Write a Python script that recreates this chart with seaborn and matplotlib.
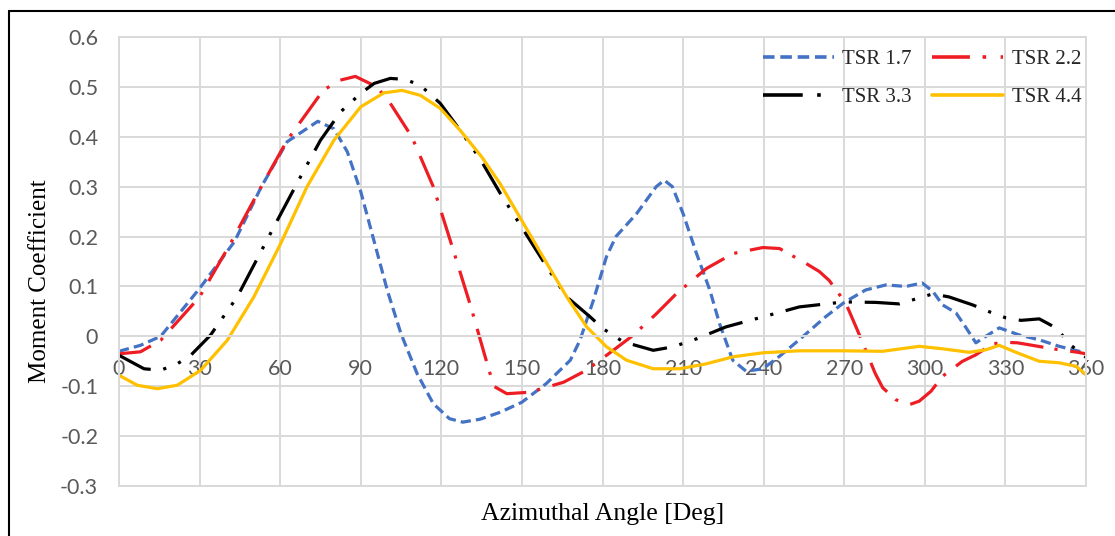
import numpy as np
import pandas as pd
import matplotlib
matplotlib.use("Agg")
import matplotlib.pyplot as plt
from matplotlib.lines import Line2D
import seaborn as sns

# ---- data ----
deg_17 = [0, 8, 15.5, 30, 43, 53, 62.6, 74, 80, 85, 90, 95, 100, 105, 111, 117, 123, 128,
          134.5, 142, 150, 159, 168, 171.6, 176.6, 181.5, 185, 192.7, 200, 203, 206, 210,
          215, 220, 223.6, 228.5, 233.5, 239.7, 245.9, 253, 263, 270, 278, 285.5, 293, 299,
          303, 306.6, 311.6, 315, 319, 322.7, 327.7, 335, 342.6, 350, 357.5, 360]
cm_17 = [-0.03, -0.018, 0.0, 0.096, 0.19, 0.30, 0.39, 0.431, 0.416, 0.37, 0.29, 0.19, 0.09,
         0.005, -0.075, -0.135, -0.165, -0.172, -0.166, -0.152, -0.132, -0.095, -0.048,
         -0.008, 0.072, 0.16, 0.20, 0.246, 0.30, 0.313, 0.30, 0.246, 0.166, 0.092, 0.025,
         -0.048, -0.07, -0.065, -0.04, -0.008, 0.039, 0.068, 0.093, 0.103, 0.1, 0.107, 0.09,
         0.063, 0.047, 0.02, -0.013, 0.0, 0.017, 0.003, -0.007, -0.02, -0.03, -0.035]

deg_22 = [0, 8, 15.5, 30, 41.5, 51.5, 62.6, 76, 82, 88, 96, 101, 109, 117, 124.5, 131, 136,
          139.5, 144.4, 153, 165.5, 174, 184, 191.4, 200, 207.6, 218.7, 228.6, 239.7, 245.9,
          255.8, 260.7, 264.4, 270.6, 275.4, 281.5, 284.3, 289.2, 294.2, 297.9, 302.3, 306.6,
          314, 319, 325.2, 330.2, 334.5, 340, 347.6, 356.9, 360]
cm_22 = [-0.035, -0.031, -0.008, 0.079, 0.186, 0.286, 0.393, 0.493, 0.513, 0.521, 0.5, 0.467,
         0.40, 0.30, 0.172, 0.059, -0.035, -0.1, -0.115, -0.112, -0.092, -0.068, -0.028, 0.002,
         0.045, 0.086, 0.136, 0.166, 0.178, 0.176, 0.146, 0.13, 0.112, 0.066, 0.006, -0.074,
         -0.103, -0.127, -0.137, -0.13, -0.11, -0.08, -0.05, -0.037, -0.015, -0.012, -0.013,
         -0.018, -0.025, -0.032, -0.035]

deg_33 = [0, 9.3, 15.5, 21.7, 26.7, 34, 44, 51.5, 59, 67.6, 75, 82.5, 90, 95, 101, 106.6,
          112.2, 119.6, 127, 134.5, 142, 150.6, 159.3, 166.7, 175.4, 180.3, 187.7, 198.9,
          206.3, 215, 226, 239.7, 253.3, 270, 281.8, 290.5, 297.9, 302.9, 309, 317.8, 324.6,
          330.2, 335.8, 342.6, 348.8, 354.4, 360]
cm_33 = [-0.038, -0.065, -0.068, -0.055, -0.038, 0.002, 0.079, 0.156, 0.233, 0.32, 0.393,
         0.45, 0.487, 0.507, 0.517, 0.515, 0.503, 0.467, 0.413, 0.355, 0.286, 0.213, 0.139,
         0.079, 0.039, 0.015, -0.011, -0.028, -0.021, -0.005, 0.019, 0.039, 0.059, 0.069,
         0.068, 0.065, 0.077, 0.085, 0.079, 0.063, 0.048, 0.037, 0.032, 0.035, 0.017, -0.018,
         -0.042]

deg_44 = [0, 6.8, 14.3, 21.7, 30.4, 40.3, 50.2, 60.2, 70, 80, 90, 98.6, 105.4, 112.2, 119.6,
          127, 135, 142, 150.6, 159.3, 166.7, 174.1, 181.5, 189, 198.9, 208.8, 218.7, 228.6,
          239.7, 253.3, 270, 284.3, 297.9, 306.6, 316.5, 322.7, 327.7, 333.9, 342.6, 350,
          356.3, 360]
cm_44 = [-0.078, -0.098, -0.105, -0.098, -0.068, -0.008, 0.079, 0.186, 0.30, 0.393, 0.46,
         0.488, 0.493, 0.483, 0.457, 0.413, 0.36, 0.305, 0.226, 0.146, 0.079, 0.019, -0.021,
         -0.048, -0.065, -0.065, -0.055, -0.041, -0.033, -0.029, -0.029, -0.03, -0.02, -0.025,
         -0.032, -0.027, -0.018, -0.032, -0.05, -0.053, -0.06, -0.077]

series_names = ["TSR 1.7", "TSR 2.2", "TSR 3.3", "TSR 4.4"]
x_ticks = list(range(0, 361, 30))
y_ticks = [-0.3, -0.2, -0.1, 0, 0.1, 0.2, 0.3, 0.4, 0.5, 0.6]
y_tick_labels = ["-0.3", "-0.2", "-0.1", "0", "0.1", "0.2", "0.3", "0.4", "0.5", "0.6"]

frames = []
for name, d, c in zip(series_names, [deg_17, deg_22, deg_33, deg_44],
                      [cm_17, cm_22, cm_33, cm_44]):
    frames.append(pd.DataFrame({"Angle": d, "Cm": c, "Series": name}))
df = pd.concat(frames, ignore_index=True)

palette = {"TSR 1.7": "#4472C4", "TSR 2.2": "#EE1D24", "TSR 3.3": "#000000", "TSR 4.4": "#FFC000"}
dashes = {"TSR 1.7": (3.2, 1.6), "TSR 2.2": (10.5, 3.5, 1, 4),
          "TSR 3.3": (11, 4, 1, 4, 1, 4), "TSR 4.4": ""}

sns.set_style("white")
plt.rcParams["font.family"] = ["Liberation Serif", "DejaVu Sans"]

fig = plt.figure(figsize=(11.15, 5.36), dpi=100)
ax = fig.add_axes([119 / 1115, 1 - 486 / 536, (1086 - 119) / 1115, (486 - 37) / 536])

sns.lineplot(data=df, x="Angle", y="Cm", hue="Series", style="Series",
             palette=palette, dashes=dashes, hue_order=series_names, style_order=series_names,
             sort=False, estimator=None, linewidth=2.3, ax=ax, legend=True)

ax.set_xlim(0, 360)
ax.set_ylim(-0.3, 0.6)
ax.set_xticks(x_ticks)
ax.set_yticks(y_ticks)
ax.set_yticklabels(y_tick_labels)

grid_c = "#D9D9D9"
ax.grid(True, color=grid_c, linewidth=1.4)
ax.set_axisbelow(True)
for s in ["top", "right", "left"]:
    ax.spines[s].set_color(grid_c)
    ax.spines[s].set_linewidth(1.4)
ax.spines["bottom"].set_position(("data", 0))
ax.spines["bottom"].set_color(grid_c)
ax.spines["bottom"].set_linewidth(1.4)
ax.axhline(-0.3, color=grid_c, linewidth=1.4, clip_on=False, zorder=0)

ax.tick_params(axis="both", length=0, labelsize=15.5, labelcolor="#595959")
ax.tick_params(axis="y", pad=15)
ax.tick_params(axis="x", pad=16)
for lab in ax.get_xticklabels() + ax.get_yticklabels():
    lab.set_fontfamily(["Lato", "DejaVu Sans"])

ax.set_xlabel("Azimuthal Angle [Deg]", fontsize=18.5, color="black")
ax.set_ylabel("Moment Coefficient", fontsize=18, color="black")
ax.xaxis.set_label_coords(0.5, -0.062)
ax.xaxis.label.set_va("center")
ax.yaxis.set_label_coords(-0.082, 0.457)
ax.yaxis.label.set_va("center")

handles, labels = ax.get_legend_handles_labels()
hmap = dict(zip(labels, handles))
order = ["TSR 1.7", "TSR 3.3", "TSR 2.2", "TSR 4.4"]  # row-wise fill for ncol=2
leg = ax.legend([hmap[k] for k in order], order, loc="upper right",
                bbox_to_anchor=(1.008, 1.0),
                ncol=2, frameon=False, fontsize=15, handlelength=3.4,
                handletextpad=0.4, columnspacing=1.0, labelspacing=0.9,
                borderaxespad=0.2)
for h in leg.get_lines():
    h.set_linewidth(2.6)

# figure border (top and left edges, as in reference)
fig.add_artist(Line2D([9 / 1115, 9 / 1115], [0, 1 - 11 / 536], color="black", linewidth=1.5,
                      transform=fig.transFigure))
fig.add_artist(Line2D([9 / 1115, 1], [1 - 11 / 536, 1 - 11 / 536], color="black", linewidth=1.5,
                      transform=fig.transFigure))

fig.savefig("out.png", dpi=100)
